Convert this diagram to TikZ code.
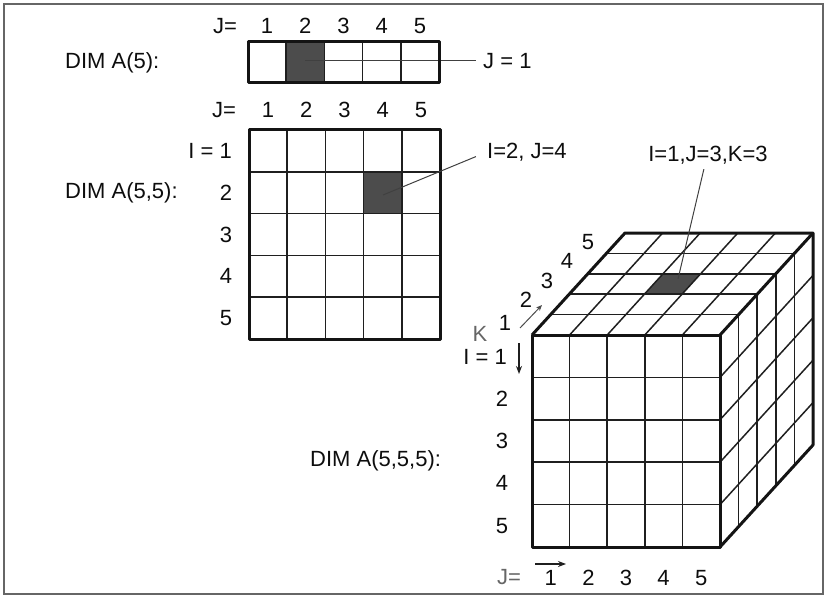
\documentclass[tikz,border=0pt]{standalone}
\usepackage{fontspec}
\setmainfont{Liberation Sans}
\usetikzlibrary{arrows.meta}
\begin{document}
\begin{tikzpicture}[x=1pt,y=-1pt,
  txt/.style={font=\fontsize{22}{24}\selectfont, inner sep=0pt, text=black!95},
  graytxt/.style={txt, text=black!60},
  gridline/.style={line width=1.5pt, black!88},
  outline/.style={line width=3pt, line join=round, black!92},
  leader/.style={line width=1pt, black!75},
  grayarrow/.style={line width=1pt, black!70, -{Stealth[length=6pt,width=5pt]}},
  blackarrow/.style={line width=1.4pt, black!88, -{Stealth[length=8pt,width=6pt]}},
  cellfill/.style={fill=black!70},
  framebox/.style={draw=black!60, line width=1.5pt}]
\useasboundingbox (0,0) rectangle (827,596);
\draw[framebox] (4,4) rectangle (823,594);

% ---------- 1D array ----------
\fill[cellfill] (286.2,42) rectangle (324.4,83);
\foreach \i in {1,...,4} \draw[gridline] ({248+38.2*\i},42) -- ({248+38.2*\i},83);
\node[txt, anchor=west] (j1) at (483,61) {J = 1};
\coordinate (s1) at (305,61);
\draw[leader, shorten >=7pt] (s1) -- (j1.west);
\draw[outline] (248,42) rectangle (439,83);
\node[txt] (jtop) at (225,26) {J=};
\foreach \n in {1,...,5} \node[txt] (ta\n) at ({248+38.2*(\n-0.5)},26) {\n};
\node[txt, anchor=west] (dim1) at (65,63) {DIM A(5):};

% ---------- 2D array ----------
\fill[cellfill] (363.6,171.8) rectangle (401.8,213.6);
\foreach \i in {1,...,4} \draw[gridline] ({249+38.2*\i},130) -- ({249+38.2*\i},339);
\foreach \j in {1,...,4} \draw[gridline] (249,{130+41.8*\j}) -- (440,{130+41.8*\j});
\draw[outline] (249,130) rectangle (440,339);
\node[txt] (jmid) at (224,110) {J=};
\foreach \n in {1,...,5} \node[txt] (tb\n) at ({249+38.2*(\n-0.5)},110) {\n};
\node[txt, anchor=east] (i1) at (232,151) {I = 1};
\foreach \n in {2,...,5} \node[txt] (rb\n) at (226,{130+41.8*(\n-0.5)}) {\n};
\node[txt, anchor=west] (dim2) at (65,193) {DIM A(5,5):};
\node[txt, anchor=west] (l2) at (487,152) {I=2, J=4};
\coordinate (s2) at (383,195);
\draw[leader, shorten >=12pt] (s2) -- (l2.west);

% ---------- 3D array ----------
% top face
\fill[cellfill] (644.4,294.2) -- (682,294.2) -- (700.6,273.8) -- (663,273.8) -- cycle;
\foreach \k in {1,...,4} \draw[gridline] ({532+18.6*\k},{335-20.4*\k}) -- ({720+18.6*\k},{335-20.4*\k});
\foreach \i in {1,...,4} \draw[gridline] ({532+37.6*\i},335) -- ++(93,-102);
% right face
\foreach \k in {1,...,4} \draw[gridline] ({720+18.6*\k},{335-20.4*\k}) -- ++(0,212);
\foreach \j in {1,...,4} \draw[gridline] (720,{335+42.4*\j}) -- ++(93,-102);
% front face
\foreach \i in {1,...,4} \draw[gridline] ({532+37.6*\i},335) -- ({532+37.6*\i},547);
\foreach \j in {1,...,4} \draw[gridline] (532,{335+42.4*\j}) -- (720,{335+42.4*\j});
% outlines
\draw[outline] (532,335) rectangle (720,547);
\draw[outline] (532,335) -- (625,233) -- (813,233) -- (813,445) -- (720,547);
\draw[outline] (720,335) -- (813,233);

\node[txt] (l3) at (708,155) {I=1,J=3,K=3};
\coordinate (s3) at (678,279);
\draw[leader, shorten <=5pt] (l3.south) ++(-3,0) coordinate (l3b) (l3b) -- (s3);

\node[txt] (k5) at (588,242) {5};
\node[txt] (k4) at (567,261) {4};
\node[txt] (k3) at (547,281) {3};
\node[txt] (k2) at (526,300) {2};
\node[txt] (k1) at (505,323) {1};
\node[graytxt] (kk) at (480,334) {K};
\coordinate (ka) at (520,328);
\coordinate (kb) at (542,305);
\draw[grayarrow] (ka) -- (kb);

\node[txt, anchor=east] (i3) at (507,357) {I = 1};
\coordinate (ia) at (519,343);
\coordinate (ib) at (519,374);
\draw[blackarrow] (ia) -- (ib);
\foreach \n in {2,...,5} \node[txt] (rc\n) at (502,{335+42.4*(\n-0.5)}) {\n};

\node[graytxt] (jbot) at (509,577) {J=};
\foreach \n in {1,...,5} \node[txt] (tc\n) at ({532+37.6*(\n-0.5)},578) {\n};
\coordinate (ja) at (535,564);
\coordinate (jb) at (566,564);
\draw[blackarrow] (ja) -- (jb);

\node[txt, anchor=west] (dim3) at (310,461) {DIM A(5,5,5):};
\end{tikzpicture}
\end{document}
